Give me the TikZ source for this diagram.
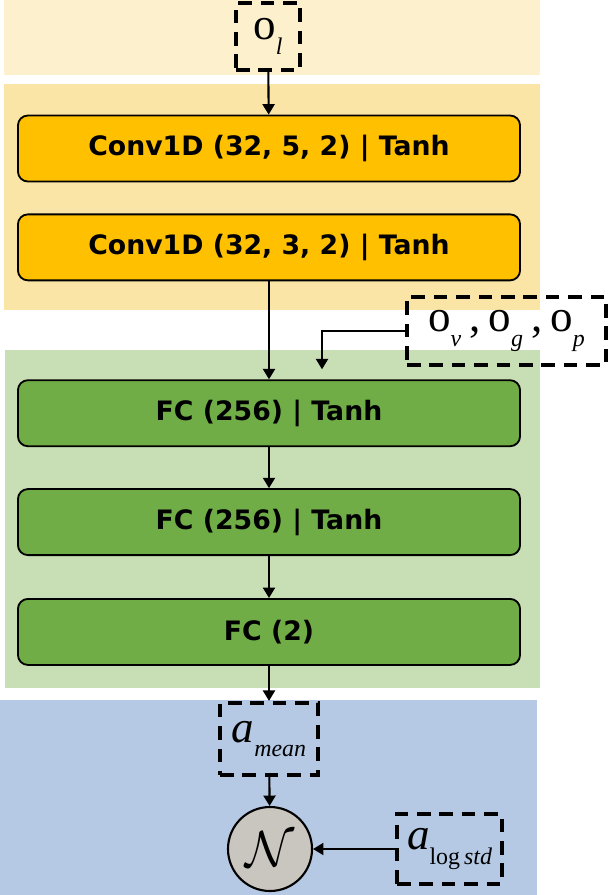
\documentclass[tikz,border=0pt]{standalone}
\usepackage{fix-cm}
\usepackage{fontspec}
\setmainfont{Liberation Serif}
\newfontfamily\layerfont{DejaVu Sans}
\usetikzlibrary{arrows.meta,positioning}
\definecolor{convgold}{RGB}{255,192,0}
\definecolor{fcgreen}{RGB}{112,173,71}
\definecolor{inputcream}{RGB}{253,240,205}
\definecolor{convband}{RGB}{250,228,166}
\definecolor{fcband}{RGB}{200,222,181}
\definecolor{outband}{RGB}{181,201,229}
\definecolor{gaussgray}{RGB}{201,197,191}
\newcommand{\sublow}[1]{\raisebox{-0.36cm}{\fontsize{17}{19}\selectfont #1}}

\begin{document}
\begin{tikzpicture}[x=0.025cm, y=0.025cm,
  node distance=0.775cm,
  layerbox/.style={rectangle, draw=black, rounded corners=2.5mm, line width=1.3pt, minimum width=12.55cm, minimum height=1.65cm, align=center, font=\layerfont\bfseries\fontsize{19}{22}\selectfont},
  convbox/.style={layerbox, fill=convgold},
  fcbox/.style={layerbox, fill=fcgreen},
  obsbox/.style={rectangle, draw=black, dash pattern=on 3.4mm off 2.2mm, line width=3pt, inner sep=0pt, font=\fontsize{32}{34}\selectfont},
  gaussnode/.style={circle, draw=black, fill=gaussgray, line width=1.5pt, minimum size=2.1cm, inner sep=0pt, font=\fontsize{36}{40}\selectfont},
  arrow/.style={-{Triangle[length=2.6mm,width=3mm]}, line width=1.5pt, color=black}
]
\useasboundingbox (0,0) rectangle (608,-895);
\fill[inputcream] (4,0) rectangle (540,-75);
\fill[convband] (4,-84) rectangle (540,-310);
\fill[fcband] (5,-350) rectangle (540,-688);
\fill[outband] (0,-700) rectangle (537,-895);

\node[obsbox, minimum width=1.6cm, minimum height=1.675cm] (ol) at (268,-36.5) {o\sublow{\itshape l}};
\node[convbox] (conv1) at (269,-148.5) {Conv1D (32, 5, 2) | Tanh};
\node[convbox, below=of conv1] (conv2) {Conv1D (32, 3, 2) | Tanh};
\node[fcbox, below=2.45cm of conv2] (fc1) {FC (256) | Tanh};
\node[fcbox, below=1.025cm of fc1] (fc2) {FC (256) | Tanh};
\node[fcbox, below=1.05cm of fc2] (fc3) {FC (2)};
\node[obsbox, minimum width=4.975cm, minimum height=1.7cm] (ovgp) at (506.5,-331)
  {o\sublow{\itshape v}\hspace{0.2cm},\hspace{0.2cm}o\sublow{\itshape g}\hspace{0.2cm},\hspace{0.2cm}o\sublow{\itshape p}};
\coordinate (fcin) at ([xshift=1.325cm, yshift=0.25cm]fc1.north);
\node[obsbox, minimum width=2.45cm, minimum height=1.8cm] (amean) at (269,-739) {\itshape a\sublow{mean}};
\node[gaussnode] (gauss) at (270,-849) {$\mathcal{N}$};
\node[obsbox, minimum width=2.625cm, minimum height=1.75cm] (alogstd) at (449.5,-849) {\itshape a\sublow{\upshape log\,\itshape std}};

\draw[arrow] (ol) -- (conv1);
\draw[arrow] (conv2) -- (fc1);
\draw[arrow] (ovgp.west) -| (fcin);
\draw[arrow] (fc1) -- (fc2);
\draw[arrow] (fc2) -- (fc3);
\draw[arrow] (fc3) -- (amean);
\draw[arrow] (amean) -- (gauss);
\draw[arrow] (alogstd) -- (gauss);
\end{tikzpicture}
\end{document}
